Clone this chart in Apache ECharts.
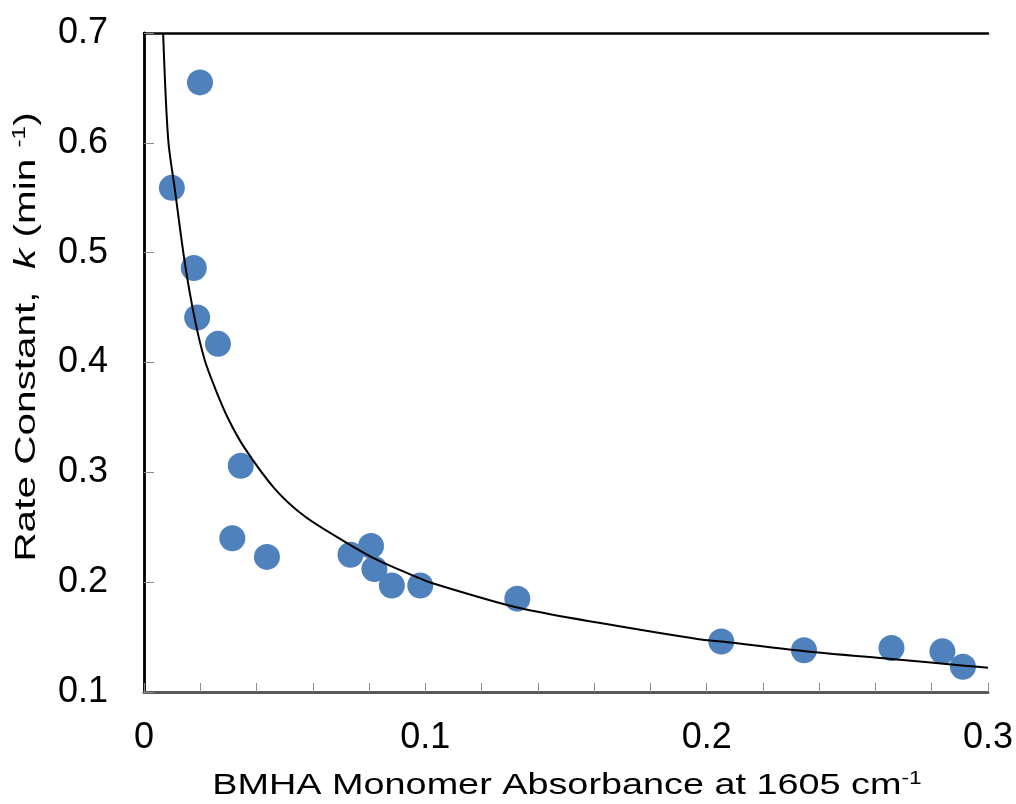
<!DOCTYPE html>
<html>
<head>
<meta charset="utf-8">
<script src="https://cdn.jsdelivr.net/npm/echarts@6/dist/echarts.min.js"></script>
<style>
  html, body { margin: 0; padding: 0; background: #fff; }
  #chart { width: 1016px; height: 804px; }
</style>
</head>
<body>
<div id="chart"></div>
<script>
// measured points (absorbance, k)
const absorbance = [0.0099, 0.0199, 0.0177, 0.0189, 0.0263, 0.0344, 0.0314, 0.0437, 0.0734,
  0.0807, 0.0819, 0.0881, 0.0982, 0.1327, 0.2052, 0.2346, 0.2657, 0.2838, 0.2911];
const rateK = [0.559, 0.655, 0.486, 0.441, 0.417, 0.306, 0.240, 0.223, 0.225,
  0.233, 0.212, 0.197, 0.197, 0.185, 0.146, 0.138, 0.140, 0.137, 0.123];

// trend line
const fitX = [0.0068, 0.0086, 0.0110, 0.0145, 0.0181, 0.0216, 0.0252, 0.0299, 0.0358, 0.0465,
  0.0571, 0.0713, 0.0831, 0.0985, 0.1026, 0.1251, 0.1380, 0.1617, 0.1972, 0.2054, 0.2350,
  0.2657, 0.2917, 0.3000];
const fitY = [0.700, 0.603, 0.557, 0.491, 0.439, 0.402, 0.377, 0.349, 0.322, 0.285,
  0.260, 0.237, 0.220, 0.203, 0.199, 0.182, 0.174, 0.163, 0.148, 0.146, 0.137,
  0.130, 0.124, 0.122];

const xLabels = ['0', '0.1', '0.2', '0.3'];
const xTitle = 'BMHA Monomer Absorbance at 1605 cm{sup|-1}';
const yTitle = 'Rate Constant,  {it|k} (min {sup|-1})';

const chart = echarts.init(document.getElementById('chart'));

const font = 'Liberation Sans, Arial, sans-serif';
const gray = '#595959';
const supStyle = { fontFamily: font, fontSize: 18, fill: '#000', color: '#000', verticalAlign: 'top', padding: [0, 0, 14, 0] };

const pts = absorbance.map((x, i) => [x, rateK[i]]);
const fit = fitX.map((x, i) => [x, fitY[i]]);

chart.setOption({
  animation: false,
  backgroundColor: '#fff',
  grid: { left: 144, right: 26, top: 33, bottom: 112 },
  // axis titles: the original text is drawn wider than the font, so stretch it
  graphic: [{
    type: 'text', x: 567, y: 786, scaleX: 1.26,
    style: {
      text: xTitle, fontFamily: font, fontSize: 30, fill: '#000',
      align: 'center', verticalAlign: 'middle',
      rich: { sup: supStyle }
    }
  }, {
    type: 'text', x: 27, y: 337, rotation: Math.PI / 2, scaleX: 1.35,
    style: {
      text: yTitle, fontFamily: font, fontSize: 30, fill: '#000',
      align: 'center', verticalAlign: 'middle',
      rich: {
        it: { fontFamily: font, fontSize: 30, fontStyle: 'italic', fill: '#000' },
        sup: supStyle
      }
    }
  }],
  xAxis: [{
    type: 'value', min: 0, max: 0.3, interval: 0.02,
    axisLine: { show: true, lineStyle: { color: gray, width: 3 } },
    axisTick: { show: true, inside: true, length: 9, lineStyle: { color: '#8c8c8c', width: 1 } },
    axisLabel: {
      margin: 28, fontFamily: font, fontSize: 36, color: '#000',
      formatter: v => {
        const i = Math.round(v * 10);
        return Math.abs(v * 10 - i) < 1e-6 ? xLabels[i] : '';
      }
    },
    splitLine: { show: false }
  }, {
    type: 'value', min: 0, max: 0.3, position: 'top',
    axisLine: { show: true, lineStyle: { color: '#000', width: 2.5 } },
    axisTick: { show: false }, axisLabel: { show: false }, splitLine: { show: false }
  }],
  yAxis: [{
    type: 'value', min: 0.1, max: 0.7, interval: 0.1,
    axisLine: { show: true, lineStyle: { color: gray, width: 3 } },
    axisTick: { show: true, inside: true, length: 10, lineStyle: { color: '#8c8c8c', width: 1 } },
    axisLabel: {
      margin: 36, fontFamily: font, fontSize: 36, color: '#000',
      formatter: v => v.toFixed(1)
    },
    splitLine: { show: false }
  }, {
    type: 'value', min: 0.1, max: 0.7, position: 'right',
    axisLine: { show: true, lineStyle: { color: '#000', width: 2.5 } },
    axisTick: { show: false }, axisLabel: { show: false }, splitLine: { show: false }
  }],
  series: [{
    type: 'scatter',
    data: pts,
    symbol: 'circle', symbolSize: 26,
    itemStyle: { color: '#4F81BD', opacity: 1 },
    z: 2
  }, {
    type: 'line',
    data: fit,
    smooth: 0.3,
    showSymbol: false,
    lineStyle: { color: '#000', width: 2 },
    z: 3
  }]
});
</script>
</body>
</html>
